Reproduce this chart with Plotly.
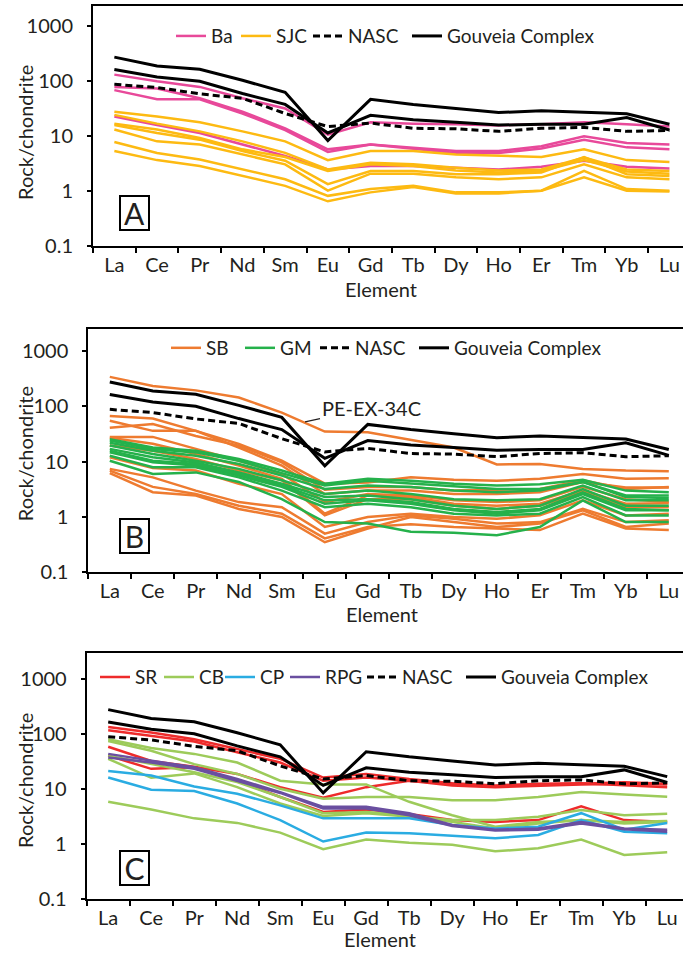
import plotly.graph_objects as go

# ---------------- data ----------------
elements = ["La", "Ce", "Pr", "Nd", "Sm", "Eu", "Gd", "Tb", "Dy", "Ho", "Er", "Tm", "Yb", "Lu"]

gouveia_upper = [274, 189, 165, 104, 63, 8.4, 47, 38, 32, 27, 29, 27, 25.6, 16.6]
gouveia_lower = [163, 120, 100, 60, 38, 11.5, 24, 20, 18, 16, 16.6, 16.6, 22, 13]
nasc = [88, 77, 59, 49, 26, 15, 17.4, 14, 13.7, 12.3, 14, 14.5, 12.3, 12.8]

# Panel A
ba_samples = [
    [132, 100, 79, 49, 32, 10.7, 18, 17, 16.6, 15.8, 16.6, 18, 16.6, 15],
    [79, 74, 49, 28, 14, 5.8, 7.1, 6.2, 5.4, 5.4, 6.6, 10, 7.6, 7.1],
    [69, 47, 47, 26, 13, 5.2, 7.1, 6.0, 5.0, 5.0, 6.0, 8.7, 6.3, 5.8],
    [23, 16, 11.5, 7.1, 4.4, 2.5, 2.9, 2.9, 2.7, 2.5, 2.8, 3.6, 2.8, 2.6],
]
sjc_samples = [
    [28, 23, 18, 12.3, 8.1, 3.7, 5.4, 5.4, 4.7, 4.4, 4.2, 5.8, 3.7, 3.4],
    [24.5, 17, 12.3, 8.1, 5.0, 2.5, 3.3, 3.1, 2.7, 2.4, 2.5, 4.1, 2.5, 2.35],
    [17, 13.3, 9.3, 5.8, 4.2, 2.35, 3.1, 2.9, 2.4, 2.2, 2.35, 3.7, 2.3, 2.1],
    [16, 11.5, 8.7, 5.4, 3.6, 1.35, 2.35, 2.35, 2.05, 2.05, 2.2, 4.2, 2.05, 1.9],
    [13.3, 8.1, 7.1, 4.7, 3.1, 1.03, 2.1, 2.1, 1.8, 1.66, 1.8, 3.1, 1.8, 1.66],
    [7.9, 5.0, 3.8, 2.5, 1.66, 0.83, 1.1, 1.26, 0.96, 0.96, 1.03, 2.35, 1.1, 1.03],
    [5.4, 3.7, 2.9, 1.9, 1.26, 0.66, 0.96, 1.2, 0.92, 0.92, 1.03, 1.8, 1.03, 1.0],
]

# Panel B
sb_samples = [
    [340, 233, 194, 144, 77, 35, 34, 24.5, 18, 8.9, 9.1, 7.4, 6.9, 6.7],
    [67, 60, 36, 21, 10.4, 4.0, 4.2, 5.2, 4.7, 4.5, 4.9, 6.0, 4.9, 5.0],
    [55, 36, 36, 18, 8.5, 2.6, 3.0, 3.0, 2.6, 2.6, 2.8, 4.3, 3.4, 3.4],
    [28, 28, 17, 10.4, 6.0, 1.86, 2.6, 2.45, 2.0, 1.86, 2.0, 3.5, 2.1, 1.86],
    [19.5, 15.8, 11.2, 6.9, 4.6, 1.07, 2.1, 2.1, 1.6, 1.4, 1.6, 2.8, 1.5, 1.5],
    [12, 7.7, 6.9, 4.0, 2.6, 0.66, 1.0, 1.15, 1.0, 0.93, 1.07, 2.0, 1.07, 1.15],
    [7.4, 5.2, 3.0, 1.86, 1.5, 0.50, 0.81, 1.07, 0.93, 0.76, 0.81, 1.4, 0.81, 0.87],
    [6.9, 3.5, 2.6, 1.6, 1.15, 0.41, 0.66, 0.74, 0.66, 0.62, 0.58, 1.15, 0.62, 0.58],
    [6.2, 2.8, 2.45, 1.4, 1.0, 0.35, 0.62, 1.0, 0.81, 0.66, 0.76, 1.32, 0.66, 0.76],
    [41, 48, 29, 19.5, 9.7, 3.1, 3.5, 3.5, 3.0, 3.1, 3.2, 4.6, 3.2, 3.5],
    [27, 21, 13.7, 8.5, 4.9, 1.15, 2.45, 2.3, 1.74, 1.6, 1.74, 3.0, 1.74, 1.78],
]
gm_samples = [
    [25.5, 18, 15.8, 11.2, 6.9, 4.0, 4.9, 4.5, 4.0, 3.7, 3.9, 4.7, 3.0, 2.8],
    [22, 15.8, 12.8, 9.1, 5.6, 3.2, 3.7, 3.5, 3.0, 2.8, 3.0, 4.3, 2.3, 2.2],
    [19.5, 13.7, 10.4, 7.4, 4.6, 2.6, 3.0, 2.6, 2.1, 2.0, 2.1, 3.7, 2.0, 2.0],
    [17, 12, 9.7, 6.4, 4.0, 2.3, 2.45, 2.1, 1.6, 1.4, 1.6, 3.2, 1.6, 1.6],
    [14.7, 9.7, 8.5, 5.6, 3.5, 1.74, 2.0, 1.74, 1.32, 1.15, 1.32, 2.6, 1.32, 1.32],
    [12.8, 7.9, 7.9, 5.2, 3.0, 1.5, 1.74, 1.5, 1.15, 1.07, 1.15, 2.3, 1.07, 1.07],
    [10.4, 6.0, 6.4, 4.3, 2.1, 0.81, 0.76, 0.54, 0.52, 0.47, 0.66, 2.0, 0.81, 0.81],
    [24, 17, 14.7, 10.4, 6.2, 3.7, 4.5, 4.0, 3.5, 3.2, 3.2, 4.3, 2.45, 2.45],
    [15.8, 10.4, 9.1, 6.0, 3.7, 2.0, 2.1, 1.86, 1.4, 1.23, 1.4, 2.8, 1.4, 1.32],
]

# Panel C
sr_samples = [
    [132, 105, 79, 52, 35, 16, 18.6, 15, 12.6, 11.5, 12.3, 12.6, 11.5, 10.7],
    [115, 91, 72, 46, 30, 14, 16, 14, 11.5, 10.7, 11.5, 12, 12.3, 12],
    [58, 32, 25, 18.6, 10.7, 6.9, 10.7, 14, 12.3, 11, 12, 12.3, 13.2, 12.3],
    [40, 23, 24.5, 14, 7.1, 3.8, 4.2, 3.5, 2.7, 2.5, 2.7, 4.8, 2.7, 2.5],
]
cb_samples = [
    [79, 55, 43, 30, 14, 12, 12, 5.8, 3.3, 2.05, 2.5, 2.7, 2.5, 2.6],
    [74, 49, 28, 18.6, 10, 6.6, 7.1, 7.1, 6.2, 6.2, 7.1, 8.7, 7.9, 7.2],
    [35, 15.8, 19, 10.7, 5.4, 3.2, 3.6, 3.1, 2.7, 2.7, 3.1, 4.1, 3.3, 3.5],
    [5.8, 4.2, 2.9, 2.4, 1.6, 0.8, 1.2, 1.05, 0.96, 0.73, 0.83, 1.2, 0.63, 0.7],
    [40, 28, 20, 13.2, 7.1, 3.6, 3.8, 3.3, 2.5, 1.9, 2.35, 2.7, 2.35, 2.5],
]
cp_samples = [
    [21, 17.4, 11, 8.1, 5.0, 2.9, 2.9, 2.9, 2.2, 1.9, 2.05, 3.6, 1.8, 2.4],
    [16, 9.6, 9.1, 5.4, 2.7, 1.1, 1.6, 1.55, 1.4, 1.26, 1.45, 2.7, 1.66, 1.55],
]
rpg_samples = [
    [43, 32, 24.5, 15, 8.7, 4.7, 4.7, 3.6, 2.2, 1.8, 1.9, 2.5, 1.9, 1.8],
    [37, 30, 23, 14, 8.4, 4.4, 4.4, 3.3, 2.1, 1.74, 1.8, 2.35, 1.84, 1.66],
]

tick_values = [0.1, 1, 10, 100, 1000]
tick_labels = ["0.1", "1", "10", "100", "1000"]

# ---------------- styling ----------------
FONT = "Lato"
TXT = "#231F20"
W, H = 683, 961

# legend entry widths (px) so entries sit where the reference puts them
LEG_W = {"Ba": 20, "SJC": 27, "SB": 29, "GM": 30, "SR": 19, "CB": 16, "CP": 20, "RPG": 32,
         "NASC": 54}

fig = go.Figure()


def add_group(samples, name, color, xa, ya, legend, width=2.5):
    for i, s in enumerate(samples):
        fig.add_trace(go.Scatter(
            x=elements, y=s, mode="lines", name=name,
            legendgroup=legend + name, showlegend=(i == 0), legend=legend,
            legendwidth=LEG_W.get(name),
            line=dict(color=color, width=width), xaxis=xa, yaxis=ya,
            hoverinfo="skip"))


def add_refs(xa, ya, legend):
    fig.add_trace(go.Scatter(
        x=elements, y=nasc, mode="lines", name="NASC", legend=legend,
        legendgroup=legend + "NASC", legendwidth=LEG_W["NASC"],
        line=dict(color="black", width=3, dash="7px,4px"),
        xaxis=xa, yaxis=ya, hoverinfo="skip"))
    for i, s in enumerate([gouveia_upper, gouveia_lower]):
        fig.add_trace(go.Scatter(
            x=elements, y=s, mode="lines", name="Gouveia Complex",
            legend=legend, legendgroup=legend + "GC", showlegend=(i == 0),
            line=dict(color="black", width=3),
            xaxis=xa, yaxis=ya, hoverinfo="skip"))


add_group(ba_samples, "Ba", "#E8499A", "x", "y", "legend")
add_group(sjc_samples, "SJC", "#FDBA12", "x", "y", "legend")
add_refs("x", "y", "legend")
add_group(sb_samples, "SB", "#EE7B30", "x2", "y2", "legend2")
add_group(gm_samples, "GM", "#25B14B", "x2", "y2", "legend2")
add_refs("x2", "y2", "legend2")
add_group(sr_samples, "SR", "#EE2B2B", "x3", "y3", "legend3")
add_group(cb_samples, "CB", "#9DCB5A", "x3", "y3", "legend3")
add_group(cp_samples, "CP", "#2AACE2", "x3", "y3", "legend3")
add_group(rpg_samples, "RPG", "#6A4FA0", "x3", "y3", "legend3")
add_refs("x3", "y3", "legend3")

# pixel geometry of each panel
panels = [
    dict(left=93.0, top=6.0, bottom=249.3, cw=42.7, decade=55.7, leg_x=178, leg_y=36.5,
         label="A", box_y=215, ytitle_y=134.5, xtitle=(381, 292)),
    dict(left=88.3, top=333.3, bottom=579.0, cw=43.0, decade=56.0, leg_x=173, leg_y=352,
         label="B", box_y=542.5, ytitle_y=459.5, xtitle=(382, 621)),
    dict(left=86.7, top=660.7, bottom=909.3, cw=43.0, decade=55.7, leg_x=102, leg_y=685,
         label="C", box_y=878, ytitle_y=790, xtitle=(380, 950)),
]

layout = dict(
    width=W, height=H, margin=dict(l=0, r=0, t=0, b=0),
    paper_bgcolor="white", plot_bgcolor="white",
    font=dict(family=FONT, size=20, color=TXT),
    showlegend=True, annotations=[],
)

for i, p in enumerate(panels):
    sfx = "" if i == 0 else str(i + 1)
    xr_end = -0.5 + (W - p["left"]) / p["cw"]
    yr_end = -1 + (p["bottom"] - p["top"]) / p["decade"]
    layout["xaxis" + sfx] = dict(
        type="category", categoryorder="array", categoryarray=elements,
        domain=[p["left"] / W, 1], range=[-0.5, xr_end], anchor="y" + sfx,
        showline=True, linecolor="black", linewidth=2, mirror=True,
        ticks="outside", tickson="boundaries", ticklen=5, tickwidth=1.5, tickcolor="black",
        showgrid=False, zeroline=False,
        tickfont=dict(family=FONT, size=20, color=TXT),
    )
    layout["yaxis" + sfx] = dict(
        type="log", domain=[1 - p["bottom"] / H, 1 - p["top"] / H], range=[-1, yr_end],
        anchor="x" + sfx,
        showline=True, linecolor="black", linewidth=2,
        ticks="outside", ticklen=4, tickwidth=1.5, tickcolor="black",
        tickvals=tick_values, ticktext=tick_labels, ticklabelstandoff=10,
        showgrid=False, zeroline=False,
        tickfont=dict(family=FONT, size=20, color=TXT),
    )
    layout["legend" + sfx] = dict(
        orientation="h", x=(p["leg_x"] - 7) / W, y=1 - p["leg_y"] / H,
        xanchor="left", yanchor="middle",
        bgcolor="rgba(0,0,0,0)", borderwidth=0, itemwidth=30,
        font=dict(family=FONT, size=19, color=TXT), traceorder="normal",
    )
    # axis titles
    layout["annotations"].append(dict(
        text="Rock/chondrite", xref="paper", yref="paper", x=25 / W, y=1 - p["ytitle_y"] / H,
        xanchor="center", yanchor="middle", textangle=-90, showarrow=False,
        font=dict(family=FONT, size=20, color=TXT)))
    layout["annotations"].append(dict(
        text="Element", xref="paper", yref="paper", x=p["xtitle"][0] / W,
        y=1 - p["xtitle"][1] / H, xanchor="center", yanchor="middle", showarrow=False,
        height=20, font=dict(family=FONT, size=20, color=TXT)))
    # boxed panel letter
    layout["annotations"].append(dict(
        text=p["label"], xref="paper", yref="paper",
        x=134.5 / W, y=1 - p["box_y"] / H, xanchor="center", yanchor="middle",
        showarrow=False, font=dict(family=FONT, size=30, color=TXT),
        bordercolor="black", borderwidth=2, borderpad=1, width=25, height=30,
    ))

# label for the highlighted sample in panel B
layout["annotations"].append(dict(
    text="PE-EX-34C", xref="x2", yref="y2", x=4.54, y=1.72,
    ax=66, ay=-14, showarrow=True, arrowhead=0, arrowwidth=1.2, arrowcolor=TXT,
    font=dict(family=FONT, size=20, color=TXT), xanchor="center", yanchor="middle",
))

fig.update_layout(**layout)
fig.write_html("out.html")
